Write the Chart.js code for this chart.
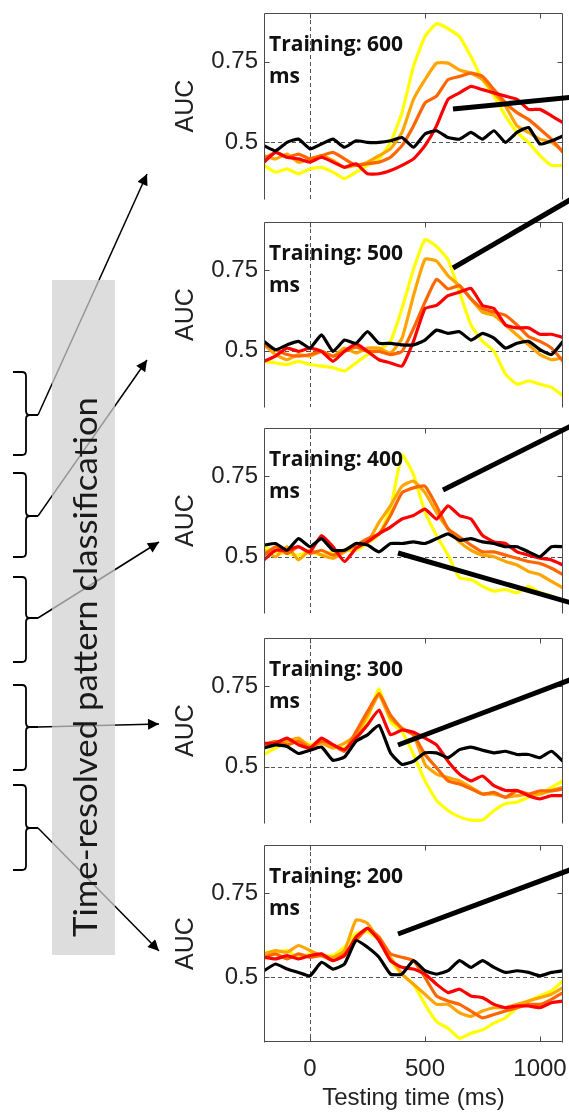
<!DOCTYPE html>
<html>
<head>
<meta charset="utf-8">
<title>Time-resolved pattern classification</title>
<script src="https://cdn.jsdelivr.net/npm/chart.js@4.4.1/dist/chart.umd.min.js"></script>
<style>
  html, body { margin: 0; padding: 0; background: #fff; }
  #page { position: relative; width: 569px; height: 1115px; overflow: hidden; }
  .panel { position: absolute; }
  #overlay { position: absolute; left: 0; top: 0; pointer-events: none; }
</style>
</head>
<body>
<div id="page">
<svg id="overlay" width="569" height="1115" xmlns="http://www.w3.org/2000/svg">
  <defs>
    <marker id="head" viewBox="0 0 10 10" refX="10" refY="5" markerUnits="userSpaceOnUse"
            markerWidth="16" markerHeight="11" orient="auto">
      <path d="M0,0 L10,5 L0,10 z" fill="#000"/>
    </marker>
  </defs>
  <!-- arrows from the braces to the panels -->
  <g stroke="#000" stroke-width="1.5" fill="none">
    <line x1="38" y1="415" x2="147" y2="174" marker-end="url(#head)"/>
    <line x1="38" y1="516" x2="147" y2="360" marker-end="url(#head)"/>
    <line x1="38" y1="618" x2="159" y2="542" marker-end="url(#head)"/>
    <line x1="38" y1="727" x2="159" y2="724" marker-end="url(#head)"/>
    <line x1="38" y1="828" x2="159" y2="951" marker-end="url(#head)"/>
  </g>
  <rect x="52" y="280" width="63" height="675" fill="rgba(208,208,208,0.72)"/>
  <text transform="translate(97,937) rotate(-90)" font-family="Lato, 'Open Sans', sans-serif"
        font-size="33" textLength="540" lengthAdjust="spacingAndGlyphs" fill="#1a1a1a">Time-resolved pattern classification</text>
  <!-- braces -->
  <g stroke="#000" stroke-width="1.8" fill="none">
    <path d="M13,372 L22,372 Q26,372 26,376 L26,411 Q26,415 30,415 L38,415 M30,415 Q26,415 26,419 L26,451 Q26,455 22,455 L13,455"/>
    <path d="M13,473 L22,473 Q26,473 26,477 L26,512 Q26,516 30,516 L38,516 M30,516 Q26,516 26,520 L26,553 Q26,557 22,557 L13,557"/>
    <path d="M13,577 L22,577 Q26,577 26,581 L26,614 Q26,618 30,618 L38,618 M30,618 Q26,618 26,622 L26,658 Q26,662 22,662 L13,662"/>
    <path d="M13,685 L22,685 Q26,685 26,689 L26,723 Q26,727 30,727 L38,727 M30,727 Q26,727 26,731 L26,766 Q26,770 22,770 L13,770"/>
    <path d="M13,785 L22,785 Q26,785 26,789 L26,824 Q26,828 30,828 L38,828 M30,828 Q26,828 26,832 L26,866 Q26,870 22,870 L13,870"/>
  </g>
  <!-- callout lines leaving the panels to the right -->
  <g stroke="#000" stroke-width="5">
    <line x1="453" y1="109" x2="575" y2="97"/>
    <line x1="453" y1="268" x2="575" y2="197"/>
    <line x1="443" y1="490" x2="575" y2="424"/>
    <line x1="398" y1="553" x2="575" y2="604"/>
    <line x1="398" y1="745" x2="575" y2="678"/>
    <line x1="398" y1="934" x2="575" y2="868"/>
  </g>
</svg>
</div>
<script>
"use strict";

/* testing time (ms), one sample every 50 ms */
var times = [-200, -150, -100, -50, 0, 50, 100, 150, 200, 250, 300, 350, 400, 450,
             500, 550, 600, 650, 700, 750, 800, 850, 900, 950, 1000, 1050, 1100];
var trainingTimes = [600, 500, 400, 300, 200];
var xTicks = [0, 500, 1000];
var yTicks = [0.5, 0.75];

/* AUC, training 600 ms */
var yellow600 = [0.429,0.408,0.418,0.403,0.418,0.423,0.408,0.388,0.408,0.429,0.449,0.50,0.592,0.735,0.827,0.867,0.852,0.827,0.765,0.694,0.643,0.582,0.531,0.50,0.459,0.429,0.429];
var orange600 = [0.459,0.449,0.464,0.439,0.449,0.459,0.444,0.423,0.429,0.439,0.459,0.48,0.531,0.633,0.694,0.745,0.745,0.724,0.714,0.694,0.653,0.612,0.551,0.531,0.51,0.50,0.474];
var darkOrange600 = [0.449,0.469,0.454,0.464,0.449,0.459,0.469,0.449,0.429,0.434,0.439,0.454,0.49,0.551,0.622,0.643,0.694,0.704,0.714,0.704,0.663,0.622,0.592,0.571,0.541,0.51,0.469];
var red600 = [0.439,0.469,0.454,0.449,0.439,0.454,0.439,0.423,0.434,0.403,0.403,0.413,0.429,0.449,0.49,0.551,0.633,0.653,0.673,0.663,0.653,0.643,0.633,0.602,0.602,0.582,0.561];
var black600 = [0.49,0.474,0.50,0.51,0.48,0.495,0.51,0.485,0.505,0.50,0.50,0.505,0.515,0.485,0.526,0.536,0.515,0.51,0.531,0.51,0.536,0.50,0.531,0.546,0.495,0.505,0.52];

/* AUC, training 500 ms */
var yellow500 = [0.467,0.462,0.457,0.467,0.457,0.452,0.447,0.437,0.462,0.488,0.503,0.529,0.631,0.753,0.845,0.824,0.783,0.682,0.58,0.529,0.498,0.427,0.396,0.406,0.396,0.386,0.36];
var orange500 = [0.518,0.488,0.472,0.488,0.483,0.498,0.483,0.508,0.493,0.508,0.508,0.493,0.539,0.671,0.784,0.779,0.733,0.702,0.661,0.62,0.61,0.58,0.549,0.518,0.488,0.472,0.478];
var darkOrange500 = [0.518,0.503,0.488,0.483,0.488,0.498,0.483,0.498,0.511,0.498,0.498,0.488,0.498,0.569,0.651,0.722,0.692,0.702,0.661,0.631,0.62,0.61,0.58,0.544,0.529,0.508,0.467];
var red500 = [0.467,0.483,0.508,0.498,0.508,0.498,0.467,0.498,0.521,0.498,0.472,0.462,0.452,0.529,0.631,0.641,0.671,0.682,0.694,0.641,0.631,0.58,0.571,0.571,0.551,0.551,0.541];
var black500 = [0.529,0.503,0.518,0.529,0.508,0.549,0.498,0.533,0.523,0.559,0.523,0.523,0.518,0.518,0.533,0.564,0.554,0.559,0.533,0.554,0.539,0.508,0.523,0.529,0.503,0.488,0.529];

/* AUC, training 400 ms */
var yellow400 = [0.531,0.515,0.51,0.505,0.515,0.505,0.515,0.52,0.52,0.541,0.57,0.65,0.816,0.755,0.638,0.566,0.505,0.434,0.429,0.408,0.393,0.398,0.388,0.408,0.388,0.378,0.362];
var orange400 = [0.52,0.50,0.531,0.49,0.52,0.505,0.495,0.515,0.536,0.546,0.607,0.658,0.719,0.735,0.699,0.638,0.587,0.546,0.52,0.505,0.50,0.485,0.474,0.454,0.444,0.423,0.403];
var darkOrange400 = [0.505,0.531,0.51,0.531,0.51,0.52,0.505,0.52,0.536,0.556,0.571,0.628,0.699,0.714,0.719,0.658,0.587,0.561,0.536,0.515,0.515,0.505,0.495,0.485,0.479,0.464,0.444];
var red400 = [0.49,0.52,0.52,0.531,0.515,0.566,0.531,0.485,0.526,0.546,0.571,0.592,0.617,0.628,0.648,0.617,0.658,0.628,0.617,0.566,0.546,0.541,0.515,0.505,0.495,0.49,0.474];
var black400 = [0.536,0.541,0.52,0.556,0.531,0.556,0.52,0.52,0.541,0.536,0.515,0.541,0.541,0.546,0.541,0.556,0.571,0.551,0.556,0.546,0.541,0.531,0.531,0.515,0.50,0.531,0.531];

/* AUC, training 300 ms */
var yellow300 = [0.538,0.558,0.573,0.584,0.568,0.579,0.563,0.558,0.599,0.65,0.742,0.64,0.609,0.538,0.456,0.395,0.364,0.344,0.334,0.334,0.364,0.385,0.39,0.405,0.415,0.436,0.456];
var orange300 = [0.558,0.573,0.579,0.589,0.563,0.573,0.558,0.573,0.599,0.66,0.721,0.65,0.619,0.599,0.507,0.477,0.466,0.456,0.436,0.415,0.415,0.405,0.41,0.415,0.415,0.426,0.436];
var darkOrange300 = [0.568,0.579,0.568,0.579,0.558,0.579,0.568,0.548,0.609,0.671,0.727,0.66,0.619,0.599,0.538,0.497,0.456,0.446,0.431,0.415,0.42,0.405,0.425,0.415,0.425,0.425,0.431];
var red300 = [0.573,0.573,0.589,0.568,0.558,0.589,0.568,0.553,0.589,0.63,0.676,0.599,0.614,0.607,0.589,0.568,0.517,0.477,0.456,0.471,0.441,0.426,0.426,0.41,0.40,0.41,0.41];
var black300 = [0.558,0.568,0.563,0.541,0.551,0.561,0.52,0.53,0.579,0.599,0.629,0.543,0.507,0.517,0.543,0.543,0.528,0.553,0.561,0.551,0.543,0.548,0.538,0.538,0.528,0.548,0.517];

/* AUC, training 200 ms */
var yellow200 = [0.574,0.574,0.579,0.559,0.569,0.564,0.564,0.589,0.63,0.635,0.61,0.549,0.509,0.479,0.419,0.368,0.348,0.318,0.333,0.343,0.363,0.379,0.409,0.429,0.444,0.459,0.489];
var orange200 = [0.569,0.579,0.574,0.594,0.579,0.564,0.559,0.579,0.67,0.66,0.609,0.559,0.509,0.479,0.449,0.419,0.419,0.394,0.383,0.399,0.409,0.409,0.419,0.429,0.439,0.449,0.469];
var darkOrange200 = [0.559,0.569,0.554,0.569,0.559,0.564,0.549,0.569,0.609,0.645,0.619,0.569,0.559,0.549,0.499,0.444,0.429,0.419,0.399,0.379,0.389,0.399,0.409,0.419,0.419,0.434,0.454];
var red200 = [0.559,0.554,0.564,0.554,0.564,0.569,0.549,0.564,0.619,0.645,0.609,0.549,0.529,0.524,0.509,0.479,0.454,0.464,0.444,0.439,0.419,0.409,0.414,0.414,0.409,0.424,0.429];
var black200 = [0.519,0.539,0.524,0.514,0.504,0.544,0.524,0.539,0.609,0.589,0.559,0.509,0.509,0.549,0.519,0.509,0.519,0.549,0.529,0.549,0.529,0.514,0.519,0.514,0.504,0.514,0.519];

/* first series is drawn on top */
var seriesColors = ['#000000', '#ff0000', '#ff6600', '#ffa500', '#ffff00'];
var panelSeries = [
    [black600, red600, darkOrange600, orange600, yellow600],
    [black500, red500, darkOrange500, orange500, yellow500],
    [black400, red400, darkOrange400, orange400, yellow400],
    [black300, red300, darkOrange300, orange300, yellow300],
    [black200, red200, darkOrange200, orange200, yellow200]
];
var yRanges = [[0.325, 0.9], [0.325, 0.9], [0.325, 0.9], [0.325, 0.9], [0.307, 0.893]];

/* page geometry of each plot box */
var panelTop = [13, 222, 428, 638, 845];
var panelBottom = [199, 407, 613, 823, 1042];
var axisFont = '"Liberation Sans", Arial, sans-serif';

/* MATLAB-like box: dashed reference lines, frame, inward ticks, panel label */
var matlabFrame = {
    id: 'matlabFrame',
    beforeDatasetsDraw: function (chart) {
        var ctx = chart.ctx, a = chart.chartArea;
        var xs = chart.scales.x, ys = chart.scales.y;
        var y5 = Math.round(ys.getPixelForValue(0.5)) + 0.5;
        var x0 = Math.round(xs.getPixelForValue(0)) + 0.5;
        ctx.save();
        ctx.strokeStyle = '#555';
        ctx.lineWidth = 1;
        ctx.setLineDash([4, 3]);
        ctx.beginPath();
        ctx.moveTo(a.left, y5); ctx.lineTo(a.right, y5);
        ctx.moveTo(x0, a.top); ctx.lineTo(x0, a.bottom);
        ctx.stroke();
        ctx.restore();
    },
    afterDatasetsDraw: function (chart, args, opts) {
        var ctx = chart.ctx, a = chart.chartArea;
        var xs = chart.scales.x, ys = chart.scales.y;
        var l = Math.round(a.left) + 0.5, r = Math.round(a.right) - 0.5;
        var t = Math.round(a.top) + 0.5, b = Math.round(a.bottom) - 0.5;
        var i, p;
        ctx.save();
        ctx.strokeStyle = '#4a4a4a';
        ctx.lineWidth = 1;
        ctx.beginPath();
        ctx.moveTo(l, b + 1); ctx.lineTo(l, t); ctx.lineTo(r, t); ctx.lineTo(r, b + 1);
        if (opts.closed) { ctx.moveTo(l, b); ctx.lineTo(r, b); }
        for (i = 0; i < yTicks.length; i++) {
            p = Math.round(ys.getPixelForValue(yTicks[i])) + 0.5;
            ctx.moveTo(l, p); ctx.lineTo(l + 5, p);
            ctx.moveTo(r, p); ctx.lineTo(r - 5, p);
        }
        for (i = 0; i < xTicks.length; i++) {
            p = Math.round(xs.getPixelForValue(xTicks[i])) + 0.5;
            ctx.moveTo(p, t); ctx.lineTo(p, t + 5);
            if (opts.closed) { ctx.moveTo(p, b); ctx.lineTo(p, b - 5); }
        }
        ctx.stroke();
        ctx.fillStyle = '#111';
        ctx.font = 'bold 21px "Open Sans", sans-serif';
        ctx.textBaseline = 'alphabetic';
        ctx.fillText(opts.label, a.left + 5, a.top + 38);
        ctx.fillText('ms', a.left + 5, a.top + 70);
        ctx.restore();
    }
};

function createPanel(idx) {
    var last = idx === trainingTimes.length - 1;
    var top = panelTop[idx] - 4;
    var height = last ? 1115 - top : panelBottom[idx] - panelTop[idx] + 8;
    var canvas = document.createElement('canvas');
    canvas.className = 'panel';
    canvas.width = 397;
    canvas.height = height;
    canvas.style.left = '172px';
    canvas.style.top = top + 'px';
    canvas.style.width = '397px';
    canvas.style.height = height + 'px';
    var page = document.getElementById('page');
    page.insertBefore(canvas, document.getElementById('overlay'));

    var datasets = panelSeries[idx].map(function (values, k) {
        return {
            data: times.map(function (t, i) { return {x: t, y: values[i]}; }),
            borderColor: seriesColors[k],
            borderWidth: 3.2,
            pointRadius: 0,
            tension: 0.15,
            fill: false
        };
    });

    return new Chart(canvas, {
        type: 'line',
        data: {datasets: datasets},
        plugins: [matlabFrame],
        options: {
            responsive: false,
            animation: false,
            events: [],
            layout: {padding: {top: 4, right: 6, bottom: last ? 0 : 4, left: 0}},
            plugins: {
                legend: {display: false},
                tooltip: {enabled: false},
                matlabFrame: {label: 'Training: ' + trainingTimes[idx], closed: last}
            },
            scales: {
                x: {
                    type: 'linear',
                    min: -200,
                    max: 1100,
                    display: last,
                    grid: {display: false, drawTicks: false},
                    border: {display: false},
                    afterBuildTicks: function (scale) {
                        scale.ticks = xTicks.map(function (v) { return {value: v}; });
                    },
                    afterFit: function (scale) {
                        scale.height = last ? 73 : 0;
                        scale.paddingLeft = 0;
                        scale.paddingRight = 0;
                    },
                    ticks: {
                        padding: 13,
                        maxRotation: 0,
                        color: '#222',
                        font: {family: axisFont, size: 24},
                        callback: function (v) { return String(v); }
                    },
                    title: {
                        display: true,
                        text: 'Testing time (ms)',
                        color: '#222',
                        font: {family: axisFont, size: 24},
                        padding: {top: 0, bottom: 2}
                    }
                },
                y: {
                    min: yRanges[idx][0],
                    max: yRanges[idx][1],
                    grid: {display: false, drawTicks: false},
                    border: {display: false},
                    afterBuildTicks: function (scale) {
                        scale.ticks = yTicks.map(function (v) { return {value: v}; });
                    },
                    afterFit: function (scale) {
                        scale.width = 92;
                        scale.paddingTop = 0;
                        scale.paddingBottom = 0;
                    },
                    ticks: {
                        padding: 6,
                        color: '#222',
                        font: {family: axisFont, size: 24},
                        callback: function (v) { return String(v); }
                    },
                    title: {
                        display: true,
                        text: 'AUC',
                        color: '#222',
                        font: {family: axisFont, size: 25, lineHeight: 1},
                        padding: {top: 2, bottom: 0}
                    }
                }
            }
        }
    });
}

var charts = [];
for (var p = 0; p < trainingTimes.length; p++) {
    charts.push(createPanel(p));
}
</script>
</body>
</html>
